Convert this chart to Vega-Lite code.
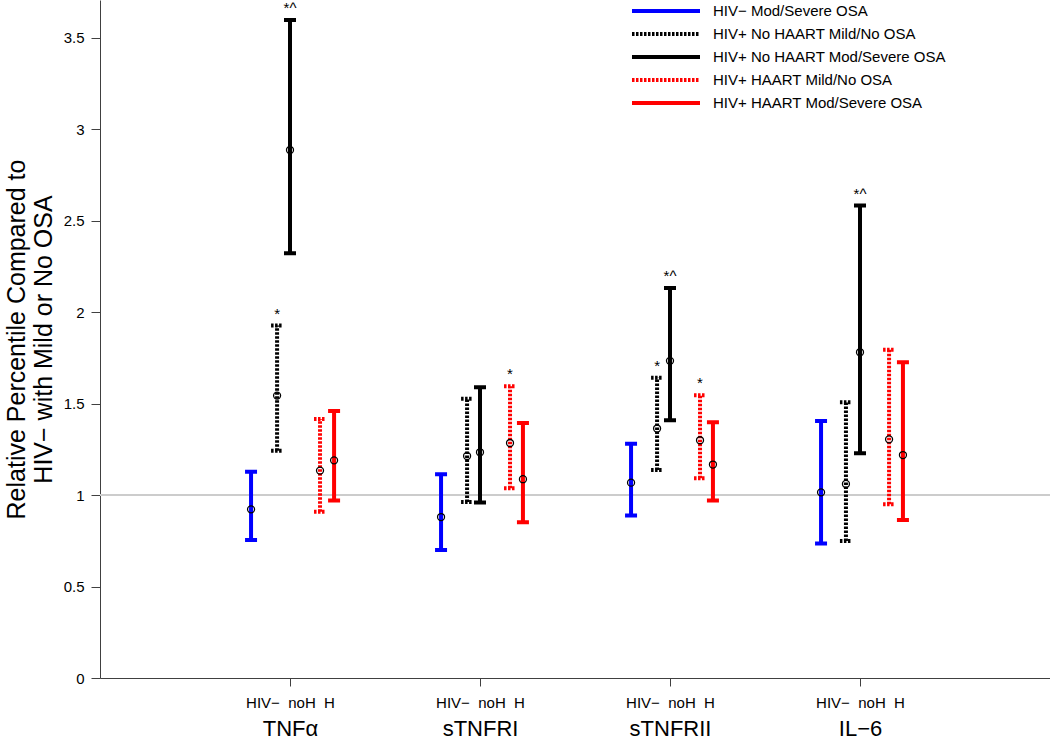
{
  "$schema": "https://vega.github.io/schema/vega-lite/v6.json",
  "width": 950,
  "height": 678,
  "autosize": {"type": "none"},
  "padding": {"left": 100, "top": 0, "right": 0, "bottom": 70},
  "background": "white",
  "config": {"font": "Liberation Sans", "view": {"stroke": null}, "axis": {"grid": false}},
  "data": {"values": [
    {"marker": "TNFα", "series": "HIV− Mod/Severe OSA", "pos": 0.795, "lo": 0.755, "mid": 0.922, "hi": 1.128, "sig": ""},
    {"marker": "TNFα", "series": "HIV+ No HAART Mild/No OSA", "pos": 0.932, "lo": 1.243, "mid": 1.544, "hi": 1.927, "sig": "*"},
    {"marker": "TNFα", "series": "HIV+ No HAART Mod/Severe OSA", "pos": 1.0, "lo": 2.322, "mid": 2.887, "hi": 3.598, "sig": "*^"},
    {"marker": "TNFα", "series": "HIV+ HAART Mild/No OSA", "pos": 1.158, "lo": 0.909, "mid": 1.134, "hi": 1.416, "sig": ""},
    {"marker": "TNFα", "series": "HIV+ HAART Mod/Severe OSA", "pos": 1.232, "lo": 0.970, "mid": 1.190, "hi": 1.460, "sig": ""},
    {"marker": "sTNFRI", "series": "HIV− Mod/Severe OSA", "pos": 1.795, "lo": 0.700, "mid": 0.880, "hi": 1.114, "sig": ""},
    {"marker": "sTNFRI", "series": "HIV+ No HAART Mild/No OSA", "pos": 1.932, "lo": 0.962, "mid": 1.214, "hi": 1.527, "sig": ""},
    {"marker": "sTNFRI", "series": "HIV+ No HAART Mod/Severe OSA", "pos": 2.0, "lo": 0.959, "mid": 1.234, "hi": 1.590, "sig": ""},
    {"marker": "sTNFRI", "series": "HIV+ HAART Mild/No OSA", "pos": 2.158, "lo": 1.037, "mid": 1.285, "hi": 1.595, "sig": "*"},
    {"marker": "sTNFRI", "series": "HIV+ HAART Mod/Severe OSA", "pos": 2.226, "lo": 0.851, "mid": 1.087, "hi": 1.394, "sig": ""},
    {"marker": "sTNFRII", "series": "HIV− Mod/Severe OSA", "pos": 2.795, "lo": 0.888, "mid": 1.068, "hi": 1.281, "sig": ""},
    {"marker": "sTNFRII", "series": "HIV+ No HAART Mild/No OSA", "pos": 2.932, "lo": 1.137, "mid": 1.364, "hi": 1.642, "sig": "*"},
    {"marker": "sTNFRII", "series": "HIV+ No HAART Mod/Severe OSA", "pos": 3.0, "lo": 1.409, "mid": 1.734, "hi": 2.133, "sig": "*^"},
    {"marker": "sTNFRII", "series": "HIV+ HAART Mild/No OSA", "pos": 3.158, "lo": 1.092, "mid": 1.300, "hi": 1.546, "sig": "*"},
    {"marker": "sTNFRII", "series": "HIV+ HAART Mod/Severe OSA", "pos": 3.226, "lo": 0.970, "mid": 1.167, "hi": 1.398, "sig": ""},
    {"marker": "IL−6", "series": "HIV− Mod/Severe OSA", "pos": 3.795, "lo": 0.736, "mid": 1.015, "hi": 1.405, "sig": ""},
    {"marker": "IL−6", "series": "HIV+ No HAART Mild/No OSA", "pos": 3.926, "lo": 0.749, "mid": 1.061, "hi": 1.508, "sig": ""},
    {"marker": "IL−6", "series": "HIV+ No HAART Mod/Severe OSA", "pos": 4.0, "lo": 1.229, "mid": 1.781, "hi": 2.583, "sig": "*^"},
    {"marker": "IL−6", "series": "HIV+ HAART Mild/No OSA", "pos": 4.153, "lo": 0.950, "mid": 1.305, "hi": 1.795, "sig": ""},
    {"marker": "IL−6", "series": "HIV+ HAART Mod/Severe OSA", "pos": 4.226, "lo": 0.864, "mid": 1.219, "hi": 1.726, "sig": ""}
  ]},
  "layer": [
    {
      "data": {"values": [{"ref": 1}]},
      "mark": {"type": "rule", "color": "#cccccc", "strokeWidth": 2},
      "encoding": {
        "y": {"field": "ref", "type": "quantitative", "scale": {"domain": [0, 3.707], "nice": false, "zero": false},
          "axis": {
            "values": [0, 0.5, 1, 1.5, 2, 2.5, 3, 3.5],
            "format": "~g",
            "tickSize": 9,
            "labelPadding": 7,
            "labelFontSize": 15,
            "labelColor": "black",
            "domainColor": "#404040",
            "tickColor": "#404040",
            "title": ["Relative Percentile Compared to", "HIV− with Mild or No OSA"],
            "titleFontSize": 25,
            "titleFontWeight": "normal",
            "titleColor": "black",
            "titleLineHeight": 27,
            "titleAngle": 270,
            "titleX": -76,
            "titleY": 339,
            "titleAlign": "center",
            "titleBaseline": "alphabetic"
          }
        }
      }
    },
    {
      "mark": {"type": "rule", "strokeWidth": 4},
      "encoding": {
        "x": {"field": "pos", "type": "quantitative", "scale": {"domain": [0, 5], "nice": false, "zero": false},
          "axis": {
            "orient": "bottom",
            "values": [1, 2, 3, 4],
            "labelExpr": "'HIV\u2212\u00a0\u00a0noH\u00a0\u00a0H'",
            "tickSize": 8,
            "labelPadding": 9,
            "labelFontSize": 15,
            "labelColor": "black",
            "domainColor": "#404040",
            "tickColor": "#404040",
            "labelFlush": false,
            "labelOverlap": false,
            "title": null
          }
        },
        "y": {"field": "lo", "type": "quantitative", "scale": {"domain": [0, 3.707], "nice": false, "zero": false}},
        "y2": {"field": "hi"},
        "color": {"field": "series", "type": "nominal",
          "scale": {"domain": ["HIV− Mod/Severe OSA", "HIV+ No HAART Mild/No OSA", "HIV+ No HAART Mod/Severe OSA", "HIV+ HAART Mild/No OSA", "HIV+ HAART Mod/Severe OSA"],
                    "range": ["#0000ff", "#000000", "#000000", "#ff0000", "#ff0000"]},
          "legend": {"orient": "none", "legendX": 530, "legendY": 3, "title": null, "symbolType": "stroke", "symbolSize": 4624, "symbolStrokeWidth": 4, "clipHeight": 16, "rowPadding": 7, "labelOffset": 11, "labelFontSize": 15, "labelColor": "black", "padding": 0, "labelLimit": 400}
        },
        "strokeDash": {"field": "series", "type": "nominal",
          "scale": {"domain": ["HIV− Mod/Severe OSA", "HIV+ No HAART Mild/No OSA", "HIV+ No HAART Mod/Severe OSA", "HIV+ HAART Mild/No OSA", "HIV+ HAART Mod/Severe OSA"],
                    "range": [[1, 0], [2.5, 1.5], [1, 0], [2.5, 1.5], [1, 0]]},
          "legend": {"orient": "none", "legendX": 530, "legendY": 3, "title": null, "symbolType": "stroke", "symbolSize": 4624, "symbolStrokeWidth": 4, "clipHeight": 16, "rowPadding": 7, "labelOffset": 11, "labelFontSize": 15, "labelColor": "black", "padding": 0, "labelLimit": 400}
        }
      }
    },
    {
      "transform": [{"fold": ["lo", "hi"], "as": ["end", "val"]}],
      "mark": {"type": "point", "shape": "stroke", "size": 144, "strokeWidth": 4, "filled": false, "opacity": 1},
      "encoding": {
        "x": {"field": "pos", "type": "quantitative", "scale": {"domain": [0, 5], "nice": false, "zero": false}, "axis": null},
        "y": {"field": "val", "type": "quantitative", "scale": {"domain": [0, 3.707], "nice": false, "zero": false}},
        "color": {"field": "series", "type": "nominal"},
        "strokeDash": {"field": "series", "type": "nominal"}
      }
    },
    {
      "mark": {"type": "point", "shape": "circle", "size": 49, "strokeWidth": 1.3, "filled": false, "color": "black", "opacity": 1},
      "encoding": {
        "x": {"field": "pos", "type": "quantitative", "scale": {"domain": [0, 5], "nice": false, "zero": false},
          "axis": {
            "orient": "bottom",
            "values": [1, 2, 3, 4],
            "labelExpr": "['', 'TNFα', 'sTNFRI', 'sTNFRII', 'IL\u22126'][datum.value]",
            "ticks": false,
            "domain": false,
            "labelPadding": 40,
            "labelFontSize": 22,
            "labelColor": "black",
            "labelFlush": false,
            "labelOverlap": false,
            "title": null
          }
        },
        "y": {"field": "mid", "type": "quantitative", "scale": {"domain": [0, 3.707], "nice": false, "zero": false}}
      }
    },
    {
      "transform": [{"filter": "datum.sig != ''"}],
      "mark": {"type": "text", "fontSize": 15, "color": "black", "baseline": "alphabetic", "dy": -7},
      "encoding": {
        "x": {"field": "pos", "type": "quantitative", "scale": {"domain": [0, 5], "nice": false, "zero": false}, "axis": null},
        "y": {"field": "hi", "type": "quantitative", "scale": {"domain": [0, 3.707], "nice": false, "zero": false}},
        "text": {"field": "sig"}
      }
    }
  ],
  "resolve": {"axis": {"x": "independent"}}
}
